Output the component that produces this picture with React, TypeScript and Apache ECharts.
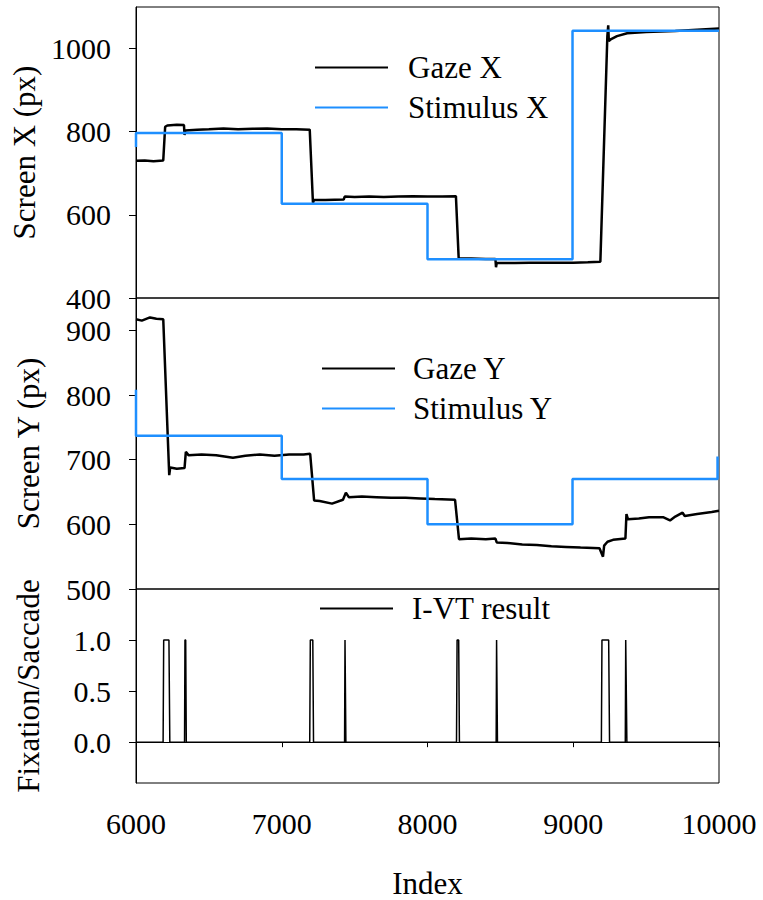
import React, { useEffect, useRef } from "react";
import * as echarts from "echarts";

// Sample index ticks shared by all three panels
const indexTicks = [6000, 7000, 8000, 9000, 10000];

// Horizontal gaze position and stimulus target (px)
const gazeX: [number, number][] = [
  [6000, 730], [6060, 731], [6120, 729], [6187, 731],
  [6200, 812], [6215, 815], [6280, 817], [6329, 816],
  [6333, 792], [6338, 803], [6420, 805], [6500, 806], [6600, 808], [6700, 806],
  [6800, 807], [6900, 808], [7000, 806], [7100, 806], [7192, 805],
  [7214, 629], [7222, 636], [7300, 636], [7425, 637], [7432, 644], [7500, 643],
  [7600, 644], [7700, 643], [7800, 644], [7900, 645], [8000, 644], [8100, 644], [8195, 645],
  [8214, 495], [8300, 495], [8400, 494], [8466, 494], [8470, 474], [8475, 484],
  [8600, 484], [8700, 485], [8800, 485], [8900, 485], [9000, 485], [9100, 486], [9186, 487],
  [9234, 1030], [9240, 1056], [9244, 1018], [9260, 1023], [9300, 1030], [9370, 1037],
  [9500, 1040], [9700, 1042], [9850, 1045], [10000, 1048],
];
const stimulusX: [number, number][] = [
  [6000, 763], [6000, 797], [7000, 797], [7000, 627], [8000, 627], [8000, 493],
  [8995, 493], [8995, 1043], [10000, 1043],
];

// Vertical gaze position and stimulus target (px)
const gazeY: [number, number][] = [
  [6000, 917], [6040, 915], [6096, 920], [6140, 918], [6187, 917],
  [6228, 676], [6235, 688], [6280, 686], [6333, 687], [6342, 712], [6360, 707],
  [6450, 708], [6550, 707], [6665, 703], [6750, 706], [6850, 708], [6950, 706],
  [7050, 708], [7150, 708], [7195, 709],
  [7222, 637], [7260, 636], [7345, 632], [7420, 638], [7440, 649], [7460, 642],
  [7550, 643], [7650, 642], [7750, 641], [7850, 641], [7950, 640], [8050, 639], [8189, 638],
  [8216, 577], [8300, 578], [8400, 577], [8466, 578], [8475, 572], [8550, 571],
  [8650, 569], [8750, 568], [8850, 566], [8950, 565], [9050, 564], [9180, 563],
  [9204, 550], [9212, 567], [9235, 573], [9273, 576], [9358, 578], [9365, 616],
  [9375, 608], [9450, 609], [9520, 611], [9616, 611], [9664, 606], [9700, 612],
  [9750, 618], [9765, 613], [9850, 616], [9950, 619], [10000, 621],
];
const stimulusY: [number, number][] = [
  [6000, 808], [6000, 737], [7000, 737], [7000, 670], [8000, 670], [8000, 600],
  [8995, 600], [8995, 670], [9990, 670], [9990, 705],
];

// I-VT classification: 0 = fixation, 1 = saccade
const ivtResult: [number, number][] = [
  [6000, 0], [6186, 0], [6190, 1], [6226, 1], [6232, 0],
  [6333, 0], [6336, 1], [6341, 1], [6345, 0],
  [7192, 0], [7196, 1], [7213, 1], [7218, 0],
  [7431, 0], [7434, 1], [7437, 1], [7440, 0],
  [8199, 0], [8203, 1], [8214, 1], [8219, 0],
  [8471, 0], [8474, 1], [8477, 1], [8480, 0],
  [9193, 0], [9197, 1], [9243, 1], [9249, 0],
  [9357, 0], [9360, 1], [9364, 1], [9368, 0],
  [10000, 0],
];

const screenXTicks = [400, 600, 800, 1000];
const screenYTicks = [500, 600, 700, 800, 900];
const ivtTicks = [0, 0.5, 1.0];

const FONT = "'Liberation Serif', 'Times New Roman', serif";
const INK = "#000";
const BLUE = "#1E8FFF";

export default function App() {
  const ref = useRef<HTMLDivElement>(null);

  useEffect(() => {
    if (!ref.current) return;
    const chart = echarts.init(ref.current, undefined, { renderer: "svg" });

    const gridBase = {
      left: 136,
      right: 44,
      show: true,
      borderColor: INK,
      borderWidth: 1,
      backgroundColor: "transparent",
    };

    const yAxisBase = (
      name: string,
      gridIndex: number,
      min: number,
      max: number,
      ticks: number[],
      fmt?: (v: number) => string
    ) => ({
      type: "value",
      gridIndex,
      min,
      max,
      name,
      nameLocation: "middle",
      nameGap: 92,
      nameTextStyle: { fontFamily: FONT, fontSize: 31, color: INK },
      splitLine: { show: false },
      axisLine: { show: true, lineStyle: { color: INK, width: 1 } },
      axisTick: { show: true, length: 7, lineStyle: { color: INK }, customValues: ticks },
      axisLabel: {
        fontFamily: FONT,
        fontSize: 30,
        color: INK,
        margin: 25,
        customValues: ticks,
        formatter: fmt ? (v: number) => fmt(v) : (v: number) => String(v),
      },
    });

    const hiddenX = (gridIndex: number) => ({
      type: "value",
      gridIndex,
      min: 6000,
      max: 10000,
      show: false,
      splitLine: { show: false },
    });

    const legendBase = (data: string[], left: number, top: number, pad: number) => ({
      data,
      orient: "vertical",
      left,
      top,
      padding: 0,
      icon: "rect",
      itemWidth: 73,
      itemHeight: 2,
      itemGap: 9,
      selectedMode: false,
      textStyle: {
        fontFamily: FONT,
        fontSize: 31,
        lineHeight: 31,
        color: INK,
        padding: [0, 0, 0, pad],
      },
    });

    const lineSeries = (name: string, data: [number, number][], idx: number, color: string, width: number) => ({
      name,
      type: "line",
      data,
      xAxisIndex: idx,
      yAxisIndex: idx,
      symbol: "none",
      showSymbol: false,
      lineStyle: { color, width },
      itemStyle: { color },
    });

    chart.setOption({
      animation: false,
      grid: [
        { ...gridBase, top: 7, height: 291 },
        { ...gridBase, top: 298, height: 291 },
        { ...gridBase, top: 589, height: 194 },
      ],
      xAxis: [
        hiddenX(0),
        hiddenX(1),
        {
          type: "value",
          gridIndex: 2,
          min: 6000,
          max: 10000,
          interval: 1000,
          name: "Index",
          nameLocation: "middle",
          nameGap: 85,
          nameTextStyle: { fontFamily: FONT, fontSize: 31, color: INK },
          splitLine: { show: false },
          axisLine: { show: true, lineStyle: { color: INK, width: 1 } },
          axisTick: { show: true, length: 5, lineStyle: { color: INK }, customValues: indexTicks },
          axisLabel: {
            fontFamily: FONT,
            fontSize: 30,
            color: INK,
            margin: 25,
            customValues: indexTicks,
            formatter: (v: number) => String(v),
          },
        },
      ],
      yAxis: [
        yAxisBase("Screen X (px)", 0, 400, 1100, screenXTicks),
        yAxisBase("Screen Y (px)", 1, 500, 950, screenYTicks),
        yAxisBase("Fixation/Saccade", 2, -0.4, 1.5, ivtTicks, (v) => v.toFixed(1)),
      ],
      legend: [
        legendBase(["Gaze X", "Stimulus X"], 315, 52, 15),
        legendBase(["Gaze Y", "Stimulus Y"], 322, 353, 13),
        legendBase(["I-VT result"], 320, 593, 14),
      ],
      series: [
        lineSeries("Gaze X", gazeX, 0, INK, 2.5),
        lineSeries("Stimulus X", stimulusX, 0, BLUE, 2.5),
        lineSeries("Gaze Y", gazeY, 1, INK, 2.5),
        lineSeries("Stimulus Y", stimulusY, 1, BLUE, 2.5),
        lineSeries("I-VT result", ivtResult, 2, INK, 1.5),
      ],
    });

    return () => chart.dispose();
  }, []);

  return (
    <div
      ref={ref}
      style={{ position: "absolute", left: 0, top: 0, width: 763, height: 900, background: "#fff" }}
    />
  );
}
